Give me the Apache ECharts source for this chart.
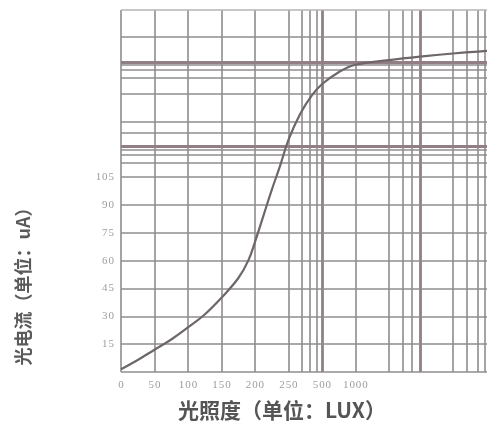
<!DOCTYPE html>
<html>
<head>
<meta charset="utf-8">
<script src="https://cdn.jsdelivr.net/npm/echarts@6/dist/echarts.min.js"></script>
<style>html,body{margin:0;padding:0;background:#fff}#c{width:487px;height:423px}</style>
</head>
<body>
<div id="c"></div>
<script>
// x-axis tick labels (one per equally spaced slot)
const xTickLabels = ['0', '50', '100', '150', '200', '250', '500', '1000'];
// y-axis tick labels shown
const yTickLabels = [15, 30, 45, 60, 75, 90, 105];
// curve: [slot position on x axis, photocurrent uA]
const curveSlots = [0, 0.5, 1, 1.5, 2, 2.5, 3, 3.5, 3.8, 4.0, 4.25, 4.5, 4.75, 5.0, 5.35, 5.7, 6.0, 6.5, 7.0, 8.0, 9.0, 10.0, 10.93];
const curveValues = [1.5, 6.5, 12, 17.5, 24, 31, 40, 50.5, 60, 70, 84, 98, 111, 125, 139, 149, 155, 161.5, 165.5, 168, 170, 171.7, 173];
// grid lines (axis units)
const xGridLines = [0, 1, 2, 3, 4, 5, 5.4, 5.64, 5.85, 7, 8, 8.4, 8.69, 9.9, 10.33, 10.66, 10.87];
const xGridBold = [6.0, 8.93];
const yGridLines = [0, 15, 30, 45, 60, 75, 90, 105, 112.5, 116.8, 119.5, 129, 134.6, 149.7, 158.3, 162.6, 165.3, 180.4];
const yGridBold = [121.7, 166.9];
const yTop = 195;

const chart = echarts.init(document.getElementById('c'), null, {renderer: 'canvas'});
const normal = {color: '#8f8c8d', width: 1.6, type: 'solid'};
const bold = {color: '#927f85', width: 2.8, type: 'solid'};
const mlData = []
  .concat(xGridLines.map(v => ({xAxis: v, lineStyle: normal})))
  .concat(xGridBold.map(v => ({xAxis: v, lineStyle: bold})))
  .concat(yGridLines.map(v => ({yAxis: v, lineStyle: normal})))
  .concat(yGridBold.map(v => ({yAxis: v, lineStyle: bold})))
  .concat([{yAxis: yTop, lineStyle: {color: '#b5b5b5', width: 1.5, type: 'solid'}}]);

const tickFont = {color: '#9d9d9d', fontSize: 11, fontFamily: 'Liberation Serif'};

chart.setOption({
  animation: false,
  backgroundColor: '#ffffff',
  grid: {left: 121, right: 0, top: 10, bottom: 51},
  xAxis: {
    type: 'value', min: 0, max: 10.93, interval: 1,
    axisLine: {show: false}, axisTick: {show: false}, splitLine: {show: false},
    axisLabel: Object.assign({
      margin: 8, showMaxLabel: false,
      formatter: v => (Number.isInteger(v) && v < xTickLabels.length) ? xTickLabels[v].split('').join('\u200A') : ''
    }, tickFont)
  },
  yAxis: {
    type: 'value', min: 0, max: yTop, interval: 15,
    axisLine: {show: false}, axisTick: {show: false}, splitLine: {show: false},
    axisLabel: Object.assign({
      margin: 7,
      formatter: v => yTickLabels.indexOf(v) >= 0 ? String(v).split('').join('\u200A') : ''
    }, tickFont)
  },
  series: [
    {
      type: 'line', data: [], z: 1, silent: true,
      markLine: {silent: true, symbol: 'none', animation: false, label: {show: false}, data: mlData}
    },
    {
      type: 'line', z: 5, smooth: 0.4, symbol: 'none',
      data: curveSlots.map((s, i) => [s, curveValues[i]]),
      lineStyle: {color: '#6e6668', width: 2.2}
    }
  ],
  graphic: [
    {type: 'text', x: 23, y: 282, rotation: Math.PI / 2,
     style: {text: '光电流（单位：uA）', fill: '#5a5a5a', font: 'bold 18px "Noto Sans CJK SC"', textAlign: 'center', textVerticalAlign: 'middle'}},
    {type: 'text', x: 282, y: 410,
     style: {text: '光照度（单位：LUX）', fill: '#555555', font: 'bold 21px "Noto Sans CJK SC"', textAlign: 'center', textVerticalAlign: 'middle'}}
  ]
});
</script>
</body>
</html>
